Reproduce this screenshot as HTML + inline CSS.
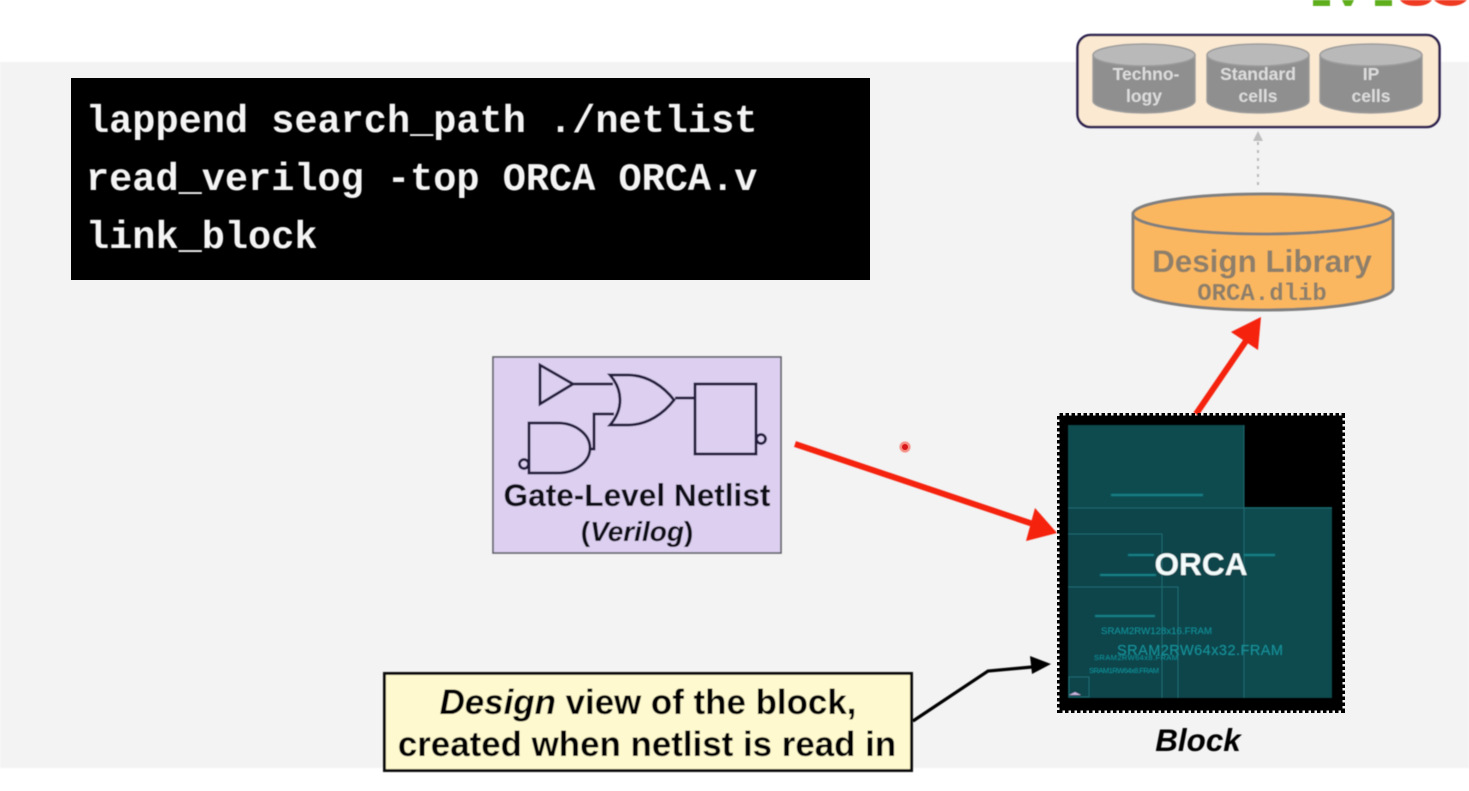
<!DOCTYPE html>
<html><head><meta charset="utf-8"><style>
html,body{margin:0;padding:0;width:1469px;height:791px;overflow:hidden;background:#fff}
svg{display:block}
text{font-family:"Liberation Sans",sans-serif}
.m{font-family:"Liberation Mono",monospace;font-weight:700}
</style></head><body>
<svg width="1469" height="791" viewBox="0 0 1469 791" xmlns="http://www.w3.org/2000/svg">
<defs>
<filter id="b" x="-5%" y="-5%" width="110%" height="110%"><feGaussianBlur stdDeviation="0.6"/></filter>
<filter id="b2" x="-5%" y="-5%" width="110%" height="110%"><feGaussianBlur stdDeviation="0.45"/></filter>
</defs>
<rect width="1469" height="791" fill="#fff"/>
<rect x="0" y="62" width="1469" height="706" fill="#f3f3f3" filter="url(#b)"/>
<!-- logo fragment -->
<g filter="url(#b)">
<path d="M1313 0h17v6h-17zM1342 0h12l-3 6h-6zM1375 0h17v6h-17z" fill="#5fae1e"/>
<path d="M1400 0h32c-3 4-8 6-16 6s-13-2-16-6zM1434 0h33c-4 4-9 6-16 6s-13-2-17-6z" fill="#ee3a24"/>
</g>
<!-- code -->
<rect x="71" y="78" width="799" height="202" fill="#000"/>
<g fill="#f4f4f4" font-size="38.6" filter="url(#b2)">
<text class="m" x="86" y="132">lappend search_path ./netlist</text>
<text class="m" x="86" y="190">read_verilog -top ORCA ORCA.v</text>
<text class="m" x="86" y="248">link_block</text>
</g>
<!-- library group -->
<g filter="url(#b2)">
<rect x="1077.5" y="35" width="362" height="92" rx="13" fill="#fbe9d2" stroke="#2d2350" stroke-width="2.6"/>
<g fill="#8f8f8f" stroke="#9c9c9c" stroke-width="1.5">
<path d="M1093 55v46c0 6 23 12 51 12s51-6 51-12V55z"/><ellipse cx="1144" cy="55" rx="51" ry="11" fill="#b9b9b9"/>
<path d="M1207 55v46c0 6 23 12 51 12s51-6 51-12V55z"/><ellipse cx="1258" cy="55" rx="51" ry="11" fill="#b9b9b9"/>
<path d="M1320 55v46c0 6 23 12 51 12s51-6 51-12V55z"/><ellipse cx="1371" cy="55" rx="51" ry="11" fill="#b9b9b9"/>
</g>
<g font-size="17.5" font-weight="700" fill="#dcdcdc" text-anchor="middle">
<text x="1146" y="80">Techno-</text><text x="1144" y="102">logy</text>
<text x="1258" y="80">Standard</text><text x="1258" y="102">cells</text>
<text x="1371" y="80">IP</text><text x="1371" y="102">cells</text>
</g>
</g>
<!-- dotted -->
<path d="M1256.8 142h2.4v3h-2.4zM1256.8 150h2.4v3h-2.4zM1256.8 158h2.4v3h-2.4zM1256.8 166h2.4v3h-2.4zM1256.8 174h2.4v3h-2.4zM1256.8 182h2.4v3h-2.4z" fill="#bdbdbd" filter="url(#b)"/>
<path d="M1258 131l5 10h-10z" fill="#bdbdbd" filter="url(#b)"/>
<!-- design library -->
<g filter="url(#b2)">
<path d="M1133 214v74c0 12 58 22 130 22s130-10 130-22V214z" fill="#fbb75e" stroke="#7f7f7f" stroke-width="3"/>
<ellipse cx="1263" cy="214" rx="130" ry="20" fill="#fbb75e" stroke="#7f7f7f" stroke-width="3"/>
<text x="1262" y="272" font-size="31.4" font-weight="700" fill="#8d7f6a" text-anchor="middle">Design Library</text>
<text class="m" x="1262" y="300" font-size="24" fill="#8d7f6a" text-anchor="middle">ORCA.dlib</text>
</g>
<!-- netlist box -->
<g filter="url(#b2)">
<rect x="493" y="357" width="288" height="196" fill="#dccff0" stroke="#5f5f68" stroke-width="1.6"/>
<g fill="none" stroke="#241a3c" stroke-width="2.8">
<path d="M540 365v39l33-20z"/>
<path d="M573 384h40"/>
<path d="M610 375c7 0 4 0 18 0 20 0 36 12 46 25-10 13-26 25-46 25h-18c7-8 10-16 10-25s-3-17-10-25z"/>
<path d="M614 414h-20v35h-3"/>
<path d="M675 398h20"/>
<rect x="695" y="384" width="61" height="70"/>
<circle cx="761" cy="439" r="4.5"/>
<path d="M529 423h29c17 0 32 11 32 25s-15 25-32 25h-29z"/>
<circle cx="524" cy="464" r="4.5"/>
</g>
<text x="637" y="506" font-size="31.6" font-weight="700" fill="#0a0812" text-anchor="middle">Gate-Level Netlist</text>
<text x="637" y="541" font-size="28" font-weight="700" fill="#0a0812" text-anchor="middle">(<tspan font-style="italic">Verilog</tspan>)</text>
</g>
<!-- red arrows -->
<g filter="url(#b2)">
<line x1="795" y1="444" x2="1036" y2="525" stroke="#f5200f" stroke-width="6"/>
<path d="M1057 533l-31 8 9-33z" fill="#f5200f"/>
<line x1="1196" y1="414" x2="1248" y2="338" stroke="#f5200f" stroke-width="6"/>
<path d="M1261 317l-3 33-27-18z" fill="#f5200f"/>
</g>
<circle cx="905" cy="447" r="5.5" fill="#f58a80" filter="url(#b2)"/>
<circle cx="905" cy="447" r="3" fill="#d81818"/>
<!-- block -->
<rect x="1059.5" y="415.5" width="283" height="295" fill="#000" stroke="#000" stroke-width="5" stroke-dasharray="3.5 2.5"/>
<rect x="1060" y="416" width="282" height="294" fill="#000"/>
<g filter="url(#b2)">
<path d="M1068 425h176v82h88v191h-264z" fill="#0a4b50"/>
<rect x="1068" y="507" width="176" height="191" fill="#09454b"/>
<g fill="none" stroke="#1a6a70" stroke-width="1">
<path d="M1068 508h264"/>
<path d="M1244 425v273"/>
<path d="M1068 534h94v164"/>
<path d="M1068 587h110v111"/>
<rect x="1069" y="677" width="20" height="20"/>
</g>
<path d="M1069 695l6-3 6 3z" fill="#c8b4e0"/>
<g fill="#1a8a8f" filter="url(#b)">
<rect x="1111" y="494" width="92" height="2"/>
<rect x="1128" y="554" width="26" height="2"/>
<rect x="1244" y="554" width="31" height="2"/>
<rect x="1100" y="574" width="56" height="2"/>
<rect x="1095" y="615" width="60" height="2"/>
</g>
<g fill="#17929a">
<text x="1101" y="634" font-size="9.6" textLength="111">SRAM2RW128x16.FRAM</text>
<text x="1094" y="660" font-size="7.5" textLength="84">SRAM2RW64x8.FRAM</text>
<text x="1089" y="673" font-size="7.5" textLength="70">SRAM1RW64x8.FRAM</text>
<text x="1117" y="655" font-size="14.5" textLength="166">SRAM2RW64x32.FRAM</text>
</g>
<text x="1201" y="575" font-size="31.6" font-weight="700" fill="#f3fbfb" text-anchor="middle">ORCA</text>
<text x="1198" y="751" font-size="31.4" font-weight="700" font-style="italic" fill="#050505" text-anchor="middle">Block</text>
</g>
<!-- note -->
<g filter="url(#b2)">
<path d="M913 721L988 671L1032 667" fill="none" stroke="#000" stroke-width="3.2"/>
<path d="M1051 664l-21-8 2 18z" fill="#000"/>
<rect x="384.5" y="673.5" width="527" height="97" fill="#fff9cf" stroke="#111" stroke-width="3"/>
<text x="648" y="714" font-size="34.9" font-weight="700" fill="#050505" text-anchor="middle"><tspan font-style="italic">Design</tspan> view of the block,</text>
<text x="647" y="756" font-size="34.9" font-weight="700" fill="#050505" text-anchor="middle">created when netlist is read in</text>
</g>
</svg>
</body></html>
